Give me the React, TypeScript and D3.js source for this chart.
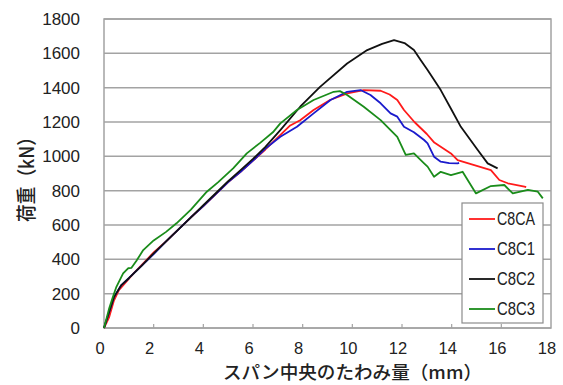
import React, { useRef, useEffect } from "react";
import * as d3 from "d3";

// load (kN) vs. mid-span deflection (mm)
const seriesNames = ["C8CA", "C8C1", "C8C2", "C8C3"];
const seriesColors = ["#ff1a1a", "#1a1acc", "#111111", "#1a8c1a"];

const c8caData: [number, number][] = [
  [0, 0], [0.2, 60], [0.4, 160], [0.6, 220], [0.9, 270], [1.2, 320], [1.6, 380],
  [2.0, 440], [2.5, 505], [3.0, 575], [3.5, 645], [4.0, 710], [4.5, 780],
  [5.0, 850], [5.5, 910], [6.0, 975], [6.5, 1040], [7.0, 1110], [7.5, 1180],
  [7.9, 1210], [8.44, 1270], [9.1, 1328], [9.8, 1367], [10.46, 1386],
  [11.14, 1382], [11.5, 1360], [11.81, 1328], [12.08, 1270], [12.5, 1200],
  [13.0, 1130], [13.3, 1080], [13.97, 1017], [14.24, 978], [14.91, 949],
  [15.58, 920], [15.92, 862], [16.26, 843], [16.93, 823], [17.0, 820],
];

const c8c1Data: [number, number][] = [
  [0, 0], [0.2, 90], [0.4, 180], [0.7, 250], [1.0, 290], [1.5, 360], [2.0, 430],
  [2.5, 505], [3.0, 575], [3.5, 645], [4.0, 710], [4.5, 780], [5.0, 850],
  [5.5, 910], [6.0, 975], [6.5, 1045], [7.1, 1114], [7.77, 1172], [8.44, 1250],
  [9.12, 1328], [9.79, 1376], [10.33, 1386], [10.73, 1357], [11.14, 1309],
  [11.54, 1250], [11.81, 1231], [12.08, 1172], [12.48, 1140], [12.89, 1095],
  [13.03, 1076], [13.29, 998], [13.56, 969], [13.9, 960], [14.24, 959], [14.3, 962],
];

const c8c2Data: [number, number][] = [
  [0, 0], [0.2, 90], [0.4, 180], [0.7, 250], [1.0, 290], [1.5, 360], [2.0, 435],
  [2.5, 505], [3.0, 575], [3.5, 645], [4.0, 715], [4.5, 785], [5.0, 855],
  [5.5, 920], [6.0, 985], [6.5, 1055], [7.1, 1153], [7.9, 1289], [8.7, 1405],
  [9.79, 1541], [10.6, 1619], [11.2, 1655], [11.68, 1677], [12.1, 1660],
  [12.48, 1619], [12.75, 1561], [13.03, 1503], [13.56, 1386], [14.0, 1270],
  [14.37, 1172], [15.05, 1037], [15.45, 959], [15.85, 930],
];

const c8c3Data: [number, number][] = [
  [0, 0], [0.2, 110], [0.36, 182], [0.5, 240], [0.77, 318], [0.97, 348],
  [1.1, 350], [1.3, 390], [1.58, 454], [2.0, 510], [2.5, 560], [2.92, 610],
  [3.5, 690], [4.14, 794], [4.6, 850], [5.2, 930], [5.75, 1017], [6.3, 1080],
  [6.8, 1140], [7.1, 1192], [7.77, 1270], [8.44, 1328], [9.25, 1376],
  [9.5, 1380], [9.79, 1357], [10.46, 1289], [11.14, 1211], [11.54, 1153],
  [11.81, 1114], [12.15, 1008], [12.48, 1017], [12.89, 959], [13.03, 940],
  [13.29, 881], [13.56, 910], [13.97, 891], [14.44, 910], [14.98, 784],
  [15.58, 827], [16.12, 833], [16.46, 784], [17.07, 804], [17.47, 794],
  [17.67, 755],
];

const xTicks = [0, 2, 4, 6, 8, 10, 12, 14, 16, 18];
const yTicks = [0, 200, 400, 600, 800, 1000, 1200, 1400, 1600, 1800];

const xLabel = "スパン中央のたわみ量（mm）";
const yLabel = "荷重（kN）";

const App = () => {
  const svgRef = useRef<SVGSVGElement>(null);

  useEffect(() => {
    document.body.style.margin = "0";
    const svg = d3.select(svgRef.current);
    svg.selectAll("*").remove();

    const width = 563;
    const height = 385;
    const margin = { top: 19, right: 12, bottom: 57, left: 104 };
    const gridColor = "#a3a3a3";
    const textColor = "#222";

    const x = d3
      .scaleLinear()
      .domain([0, 18])
      .range([margin.left, width - margin.right]);
    const y = d3
      .scaleLinear()
      .domain([0, 1800])
      .range([height - margin.bottom, margin.top]);

    svg.append("rect").attr("width", width).attr("height", height).attr("fill", "#fff");

    // horizontal gridlines
    svg
      .append("g")
      .selectAll("line")
      .data(yTicks)
      .join("line")
      .attr("x1", x(0))
      .attr("x2", x(18))
      .attr("y1", (d) => y(d))
      .attr("y2", (d) => y(d))
      .attr("stroke", gridColor)
      .attr("stroke-width", 1.5);

    // plot frame
    svg
      .append("rect")
      .attr("x", x(0))
      .attr("y", y(1800))
      .attr("width", x(18) - x(0))
      .attr("height", y(0) - y(1800))
      .attr("fill", "none")
      .attr("stroke", gridColor)
      .attr("stroke-width", 1.5);

    // small inward ticks on x axis
    svg
      .append("g")
      .selectAll("line")
      .data(xTicks.slice(1, -1))
      .join("line")
      .attr("x1", (d) => x(d))
      .attr("x2", (d) => x(d))
      .attr("y1", y(0))
      .attr("y2", y(0) - 4)
      .attr("stroke", gridColor)
      .attr("stroke-width", 1.2);

    // tick labels
    svg
      .append("g")
      .selectAll("text")
      .data(yTicks)
      .join("text")
      .attr("x", 80)
      .attr("y", (d) => y(d))
      .attr("dy", "0.36em")
      .attr("text-anchor", "end")
      .attr("font-family", "Liberation Sans, Arial, sans-serif")
      .attr("font-size", 17)
      .attr("fill", textColor)
      .text((d) => d);

    svg
      .append("g")
      .selectAll("text")
      .data(xTicks)
      .join("text")
      .attr("x", (d) => x(d) - 4)
      .attr("y", 354)
      .attr("text-anchor", "middle")
      .attr("font-family", "Liberation Sans, Arial, sans-serif")
      .attr("font-size", 16.5)
      .attr("fill", textColor)
      .text((d) => d);

    // series lines
    const line = d3
      .line<[number, number]>()
      .x((d) => x(d[0]))
      .y((d) => y(d[1]));

    const allSeries = [c8caData, c8c1Data, c8c2Data, c8c3Data];
    svg
      .append("g")
      .selectAll("path")
      .data(allSeries)
      .join("path")
      .attr("d", (d) => line(d))
      .attr("fill", "none")
      .attr("stroke", (_, i) => seriesColors[i])
      .attr("stroke-width", 1.8)
      .attr("stroke-linejoin", "round");

    // legend
    const legend = svg.append("g");
    legend
      .append("rect")
      .attr("x", 462)
      .attr("y", 203)
      .attr("width", 81)
      .attr("height", 120)
      .attr("fill", "#fff")
      .attr("stroke", "#8c8c8c")
      .attr("stroke-width", 1.2);

    const items = legend
      .selectAll("g.item")
      .data(seriesNames)
      .join("g")
      .attr("class", "item")
      .attr("transform", (_, i) => `translate(0,${219 + i * 30})`);
    items
      .append("line")
      .attr("x1", 469)
      .attr("x2", 495)
      .attr("stroke", (_, i) => seriesColors[i])
      .attr("stroke-width", 1.8);
    items
      .append("text")
      .attr("x", 497)
      .attr("dy", "0.36em")
      .attr("font-family", "Liberation Sans, Arial, sans-serif")
      .attr("font-size", 18)
      .attr("textLength", 38)
      .attr("lengthAdjust", "spacingAndGlyphs")
      .attr("fill", textColor)
      .text((d) => d);

    // axis titles
    svg
      .append("text")
      .attr("x", 223)
      .attr("y", 379)
      .attr("font-family", "Noto Sans CJK JP, sans-serif")
      .attr("font-size", 18)
      .attr("font-weight", 500)
      .attr("textLength", 259)
      .attr("lengthAdjust", "spacingAndGlyphs")
      .attr("fill", textColor)
      .text(xLabel);

    svg
      .append("text")
      .attr("transform", "translate(34,222) rotate(-90)")
      .attr("font-family", "Noto Sans CJK JP, sans-serif")
      .attr("font-size", 20)
      .attr("font-weight", 500)
      .attr("textLength", 94)
      .attr("lengthAdjust", "spacingAndGlyphs")
      .attr("fill", textColor)
      .text(yLabel);
  }, []);

  return <svg ref={svgRef} width={563} height={385} style={{ display: "block" }} />;
};

export default App;
